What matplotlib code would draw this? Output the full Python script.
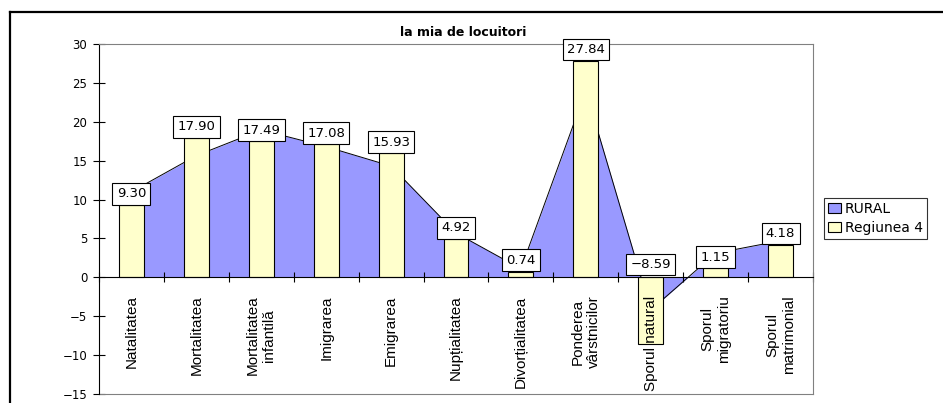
import matplotlib
matplotlib.use("Agg")
import matplotlib.pyplot as plt
from matplotlib.lines import Line2D
from matplotlib.patches import Rectangle
import numpy as np

plt.rcParams['font.family'] = ['Liberation Sans', 'DejaVu Sans']
WIDE = ['DejaVu Sans', 'Liberation Sans']

categories = ["Natalitatea", "Mortalitatea", "Mortalitatea\ninfantilă", "Imigrarea",
              "Emigrarea", "Nupțialitatea", "Divorțialitatea", "Ponderea\nvârstnicilor",
              "Sporul natural", "Sporul\nmigratoriu", "Sporul\nmatrimonial"]
rural = [11.0, 15.65, 18.95, 16.8, 14.3, 5.7, 1.1, 24.0, -4.2, 3.1, 4.7]
regiunea4 = [9.30, 17.90, 17.49, 17.08, 15.93, 4.92, 0.74, 27.84, -8.59, 1.15, 4.18]
bar_labels = ["9.30", "17.90", "17.49", "17.08", "15.93", "4.92", "0.74", "27.84", "−8.59", "1.15", "4.18"]
yticks = [-15, -10, -5, 0, 5, 10, 15, 20, 25, 30]
title = "la mia de locuitori"
series_names = ["RURAL", "Regiunea 4"]

W, H = 943, 403
fig = plt.figure(figsize=(W / 100, H / 100), dpi=100)
fig.patch.set_facecolor('white')

L, R, T, B = 99, 813, 44, 394
ax = fig.add_axes([L / W, 1 - B / H, (R - L) / W, (B - T) / H])

n = len(categories)
x = np.arange(n)
area_color = '#9999FF'
bar_color = '#FFFFCC'

ax.fill_between(x, rural, 0, color=area_color, linewidth=0, zorder=1)
ax.plot(x, rural, color='black', linewidth=0.7, zorder=1.1)
ax.bar(x, regiunea4, width=0.385, color=bar_color, edgecolor='black', linewidth=0.8, zorder=1.5)

PAD = 0.33
FS = 9.5
for xi, v, lab in zip(x, regiunea4, bar_labels):
    base = v if v > 0 else 0.2
    ax.annotate(lab, (xi, base), xytext=(0, PAD * FS + 0.3), textcoords='offset points',
                ha='center', va='bottom', fontsize=FS, family=WIDE, zorder=5,
                bbox=dict(boxstyle=f'square,pad={PAD}', facecolor='white', edgecolor='black', linewidth=0.8),
                annotation_clip=False)

ax.set_xlim(-0.5, n - 0.5)
ax.set_ylim(-15, 30)
ax.set_yticks(yticks)
ax.set_yticklabels([str(t) if t >= 0 else "−" + str(-t) for t in yticks], fontsize=8.5, family=WIDE)
ax.tick_params(axis='y', direction='inout', length=9, width=0.8, pad=4)

ax.spines['bottom'].set_position(('data', 0))
ax.set_xticks(np.arange(n + 1) - 0.5)
ax.set_xticklabels([])
ax.set_xticks(x, minor=True)
ax.set_xticklabels(categories, minor=True, rotation=90, fontsize=11, va='top', ha='center',
                   multialignment='center')
ax.tick_params(axis='x', which='major', direction='inout', length=7, width=0.8)
ax.tick_params(axis='x', which='minor', length=0, pad=13)

for s in ['top', 'right']:
    ax.spines[s].set_color('#808080')
    ax.spines[s].set_linewidth(0.8)
ax.spines['left'].set_linewidth(0.8)
ax.spines['bottom'].set_linewidth(0.8)
ax.plot([0, 1], [0, 0], transform=ax.transAxes, color='#808080', linewidth=0.8, clip_on=False)

fig.text((395 + 532) / 2 / W, 1 - 32 / H, title, ha='center', va='center',
         fontsize=9, fontweight='bold', family=WIDE)

# outer chart border
bx, by = 10 / W, 1 - 12 / H
fig.add_artist(Line2D([bx, bx], [0, by], color='black', linewidth=1.6))
fig.add_artist(Line2D([bx, 1.0], [by, by], color='black', linewidth=1.6))

handles = [Rectangle((0, 0), 1, 1, facecolor=area_color, edgecolor='black', linewidth=0.8),
           Rectangle((0, 0), 1, 1, facecolor=bar_color, edgecolor='black', linewidth=0.8)]
leg = fig.legend(handles, series_names, loc='upper left', bbox_to_anchor=(824 / W, 1 - 198 / H),
                 frameon=True, fancybox=False, prop={'family': WIDE, 'size': 10},
                 handlelength=0.9, handleheight=0.7,
                 handletextpad=0.3, borderpad=0.3, labelspacing=0.35, borderaxespad=0)
leg.get_frame().set_edgecolor('black')
leg.get_frame().set_linewidth(0.8)

fig.savefig('out.png', dpi=100, facecolor='white')
